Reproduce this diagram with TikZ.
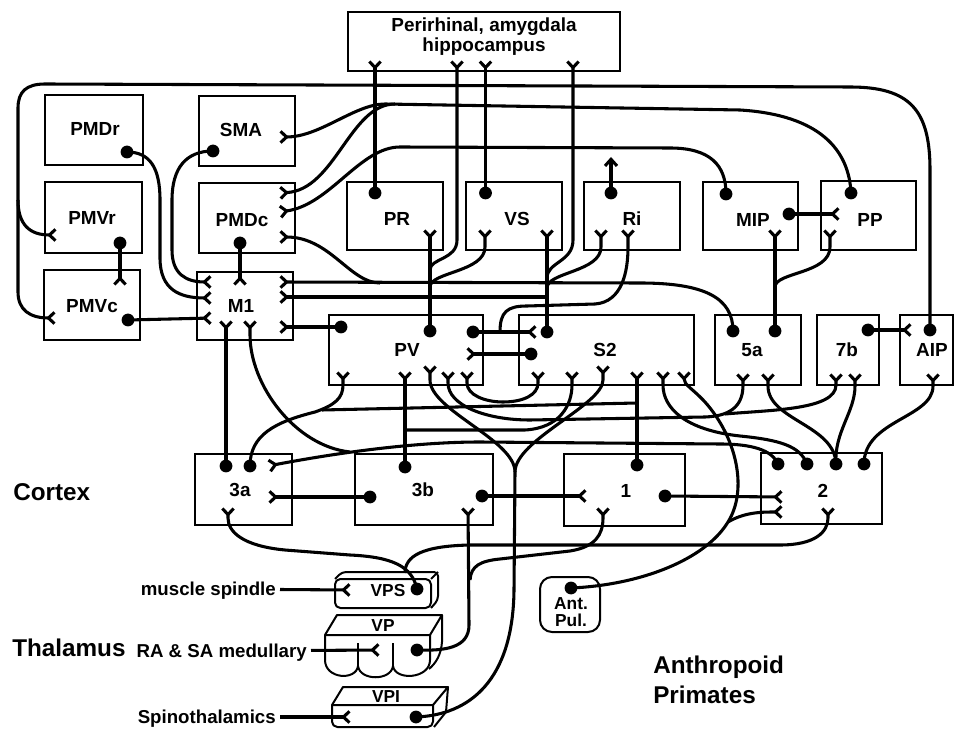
\documentclass[tikz,border=0pt]{standalone}
\usepackage{fontspec}
\setmainfont{Liberation Sans}
\usetikzlibrary{arrows.meta,fit}
\begin{document}
\begin{tikzpicture}[x=0.75pt,y=-0.75pt,
  conn/.style={line width=2.3pt, line join=round},
  fk/.style={-{Straight Barb[reversed,length=4.5pt,width=8.5pt]}},
  upar/.style={-{Straight Barb[length=5pt,width=9pt]}},
  bx/.style={draw, line width=1.5pt, inner sep=0pt},
  shp/.style={draw, line width=1.5pt, line join=round},
  lbl/.style={font=\bfseries\fontsize{14.2}{16}\selectfont, inner sep=0pt, text height=10.2pt, text depth=0pt},
  sml/.style={font=\bfseries\fontsize{13}{15}\selectfont, inner sep=0pt, text height=9.3pt, text depth=0pt},
  side/.style={font=\bfseries\fontsize{14}{16}\selectfont, inner ysep=0pt, inner xsep=3pt, text height=10pt, text depth=0pt},
  big/.style={font=\bfseries\fontsize{18.2}{21}\selectfont, inner sep=0pt, text height=13pt, text depth=0pt}]
\useasboundingbox (0,0) rectangle (956,730);

% ---------------- boxes ----------------
\node[bx, fit={(348,12) (620,71)}] (PH) {};
\node[bx, fit={(45,95) (143,165)}] (PMDr) {};
\node[bx, fit={(199,96) (295,166)}] (SMA) {};
\node[bx, fit={(45,182) (142,253)}] (PMVr) {};
\node[bx, fit={(199,183) (295,253)}] (PMDc) {};
\node[bx, fit={(44,270) (140,340)}] (PMVc) {};
\node[bx, fit={(197,272) (293,340)}] (M1) {};
\node[bx, fit={(347,182) (443,250)}] (PR) {};
\node[bx, fit={(466,182) (562,250)}] (VS) {};
\node[bx, fit={(584,182) (680,250)}] (Ri) {};
\node[bx, fit={(703,182) (798,250)}] (MIP) {};
\node[bx, fit={(821,181) (916,250)}] (PP) {};
\node[bx, fit={(329,315) (483,385)}] (PV) {};
\node[bx, fit={(519,315) (694,385)}] (S2) {};
\node[bx, fit={(715,315) (801,385)}] (A5a) {};
\node[bx, fit={(817,315) (879,385)}] (A7b) {};
\node[bx, fit={(900,315) (953,385)}] (AIP) {};
\node[bx, fit={(195,454) (292,525)}] (A3a) {};
\node[bx, fit={(355,454) (493,525)}] (A3b) {};
\node[bx, fit={(564,454) (685,526)}] (A1) {};
\node[bx, fit={(761,453) (882,524)}] (A2) {};
\node[bx, rounded corners=9pt, fit={(540,577) (600,632)}] (AntPul) {};

% thalamic nuclei (3-D slabs)
\draw[shp, rounded corners=4pt] (335,579) -- (335,608) -- (431,608) -- (431,579) -- cycle;
\draw[shp, rounded corners=3pt] (335,579) -- (342,572) -- (438,572) -- (438,600) -- (431,608);
\draw[shp] (431,579) -- (438,572);
\draw[shp] (325,635) -- (337,615) -- (442,615) -- (430,635) -- cycle;
\draw[shp] (325,635) -- (325,660) .. controls (325,679) and (356,681) .. (358,666)
  .. controls (360,681) and (391,681) .. (393,666) .. controls (395,681) and (430,679) .. (430,660) -- (430,635);
\draw[shp] (358,643) -- (358,666) (393,643) -- (393,666);
\draw[shp] (442,615) -- (442,642) .. controls (441,655) and (436,663) .. (429,669);
\draw[shp] (332,705) -- (343,687) -- (448,687) -- (433,705) -- cycle;
\draw[shp, rounded corners=4pt] (332,705) -- (332,727) -- (433,727) -- (433,705);
\draw[shp] (448,687) -- (446,712) -- (434,727);

% ---------------- terminals ----------------
\foreach \n/\x/\y in {pmdr/127/152, sma/213/151, pmvr/120/243, pmdc/240/243, pmvc/128/320,
  pr/375/193, vs/485.5/193, ri/611/193, mipa/726/194, mipb/789/214, pp/851/193,
  pva/341/327, pvb/430/331, pvc/473/332, sa/547/332, sb/531/354,
  fa/733/331, fb/775/331, sb7/868/330, aip/930/330,
  tA/226/466, tB/250/466, bT/405/467, bL/370/497, bR/482/496,
  oT/637/465, oR/665/496, wA/778/464, wB/807/464, wC/836/464, wD/864/464,
  vps/417/589, vp/417/650, vpi/416/717, antp/571/588}
  \coordinate (\n) at (\x,\y);
\foreach \n/\x/\y in {ph1/375/60, ph2/457/60, ph3/485.5/60, ph4/573/60,
  smaF/279/137, pmdcA/279/193, pmdcB/279/212, pmdcC/279/237,
  pmvrF/57/235, pmvcF/56/318, pmvcT/120/286,
  mL1/212/282, mL2/212/298, mL3/212/318, mT/240/286, mR1/279/282, mR2/279/297, mR3/279/327,
  mB1/226/320, mB2/250/320,
  prF/430/229, vsF1/485/229, vsF2/547/229, riF1/601/229, riF2/628/229, riA/611/157,
  mipF/775/229, ppL/840/214, ppF/830/229,
  pvR/466/354, pvB1/343/371, pvB2/405/371, pvB3/430/365, pvB4/448/371, pvB5/467/371,
  sL/537/332, sB1/538/371, sB2/572/371, sB3/603/365, sB4/637/371, sB5/663/371, sB6/684/371,
  faF1/743/373, faF2/768/373, sbF1/836/373, sbF2/855/373, aipL/912/330, aipF/933/373,
  tR1/268/466, tR2/268/497, tBf/228/507, bBf/468/507, oL/587/496, oB/603/507,
  wL1/783/497, wL2/783/512, wBf/828/507,
  vpsF/351/590, vpF/380/650, vpiF/351/717, vpsTop/405/573}
  \coordinate (\n) at (\x,\y);
% junctions
\foreach \n/\x/\y in {j1/18/200, jA/395/104, jB/380/283, jC/547/297, jD/547/278, jE/547/288,
  jF/430/270, jG/430/287, jH/500/332, jI/775/287, jJ/350/452, jK/322/410, jL/637/403,
  jM/503/402, jN/705/417, jO/725/414, jP/405/430, jQ/515/472, jR/728/522, jS/470/580}
  \coordinate (\n) at (\x,\y);

% ---------------- labels ----------------
\node[lbl] (PHa) at (484,25) {Perirhinal, amygdala};
\node[lbl] (PHb) at (484,45) {hippocampus};
\node[lbl] (PMDrL) at (95,129) {PMDr};
\node[lbl] (SMAL) at (241,130) {SMA};
\node[lbl] (PMVrL) at (92,218) {PMVr};
\node[lbl] (PMDcL) at (242,220) {PMDc};
\node[lbl] (PMVcL) at (92,306) {PMVc};
\node[lbl] (M1L) at (241,306) {M1};
\node[lbl] (PRL) at (397,219) {PR};
\node[lbl] (VSL) at (517,219) {VS};
\node[lbl] (RiL) at (632,219) {Ri};
\node[lbl] (MIPL) at (753,220) {MIP};
\node[lbl] (PPL) at (870,220) {PP};
\node[lbl] (PVL) at (407,350) {PV};
\node[lbl] (S2L) at (605,350) {S2};
\node[lbl] (A5aL) at (752,350) {5a};
\node[lbl] (A7bL) at (847,350) {7b};
\node[lbl] (AIPL) at (932,350) {AIP};
\node[lbl] (A3aL) at (240,490) {3a};
\node[lbl] (A3bL) at (423,490) {3b};
\node[lbl] (A1L) at (626,491) {1};
\node[lbl] (A2L) at (823,491) {2};
\node[sml] (VPSL) at (388,590) {VPS};
\node[sml] (VPL) at (383,625) {VP};
\node[sml] (VPIL) at (386,696) {VPI};
\node[sml] (AntL) at (571,603) {Ant.};
\node[sml] (PulL) at (571,620) {Pul.};
\node[big, anchor=west] (cortex) at (13,492) {Cortex};
\node[big, anchor=west] (thal) at (12,648) {Thalamus};
\node[big, anchor=west] (anth) at (653,665) {Anthropoid};
\node[big, anchor=west] (prim) at (653,695) {Primates};
\node[side, anchor=east] (ms) at (280,589) {muscle spindle};
\node[side, anchor=east] (ra) at (311,651) {RA \& SA medullary};
\node[side, anchor=east] (sp) at (280,717) {Spinothalamics};

% ---------------- connectors ----------------
\begin{scope}[conn]
% big loop AIP -> PMVr, PMVc
\draw[fk] (aip) -- (930,170) .. controls (930,110) and (910,87) .. (850,87) -- (45,84)
  .. controls (26,84) and (18,92) .. (18,108) -- (18,292) .. controls (18,310) and (30,318) .. (pmvcF);
\draw[fk] (j1) .. controls (18,225) and (30,235) .. (pmvrF);
% PP -> SMA, PMDc
\draw[fk] (pp) .. controls (849,150) and (820,115) .. (740,110) -- (385,104) .. controls (355,104) and (320,137) .. (smaF);
\draw[fk] (jA) .. controls (350,104) and (335,190) .. (pmdcA);
% MIP -> PMDc
\draw[fk] (mipa) .. controls (726,165) and (710,148) .. (670,148) -- (400,147) .. controls (360,147) and (330,205) .. (pmdcB);
% 5a -> M1, PMDc
\draw[fk] (fa) .. controls (733,298) and (705,283) .. (640,283) -- (mR1);
\draw[fk] (jB) .. controls (350,283) and (330,237) .. (pmdcC);
% S2 -> VS, M1, perirhinal, Ri
\draw[fk] (sa) -- (vsF2);
\draw[fk] (jC) -- (mR2);
\draw[fk] (jD) .. controls (547,262) and (573,262) .. (573,240) -- (ph4);
\draw[fk] (jE) .. controls (547,272) and (601,272) .. (601,247) -- (riF1);
% PV -> PR, perirhinal, VS
\draw[fk] (pvb) -- (prF);
\draw[fk] (jF) .. controls (430,258) and (457,260) .. (457,240) -- (ph2);
\draw[fk] (jG) .. controls (430,272) and (485,272) .. (485,247) -- (vsF1);
% perirhinal
\draw[fk] (pr) -- (ph1);
\draw[fk] (vs) -- (ph3);
\draw[upar] (ri) -- (riA);
% PV <-> S2, Ri
\draw[fk] (pvc) -- (sL);
\draw[fk] (jH) .. controls (500,312) and (507,306) .. (527,306) -- (595,304) .. controls (622,302) and (628,272) .. (628,247) -- (riF2);
\draw[fk] (sb) -- (pvR);
\draw[fk] (pva) -- (mR3);
% MIP, PP, 5a, 7b, AIP
\draw[fk] (mipb) -- (ppL);
\draw[fk] (fb) -- (mipF);
\draw[fk] (jI) .. controls (775,272) and (830,274) .. (830,247) -- (ppF);
\draw[fk] (sb7) -- (aipL);
% premotor / motor
\draw[fk] (pmdr) .. controls (150,152) and (160,168) .. (160,200) -- (160,258) .. controls (160,290) and (180,298) .. (mL2);
\draw[fk] (sma) .. controls (186,151) and (172,168) .. (172,200) -- (172,250) .. controls (172,274) and (186,282) .. (mL1);
\draw[fk] (pmvc) -- (mL3);
\draw[fk] (pmvr) -- (pmvcT);
\draw[fk] (pmdc) -- (mT);
% cortex row
\draw[fk] (tA) -- (mB1);
\draw[fk] (wA) .. controls (772,450) and (752,444) .. (720,444) -- (480,442) .. controls (400,442) and (310,458) .. (tR1);
\draw[fk] (jJ) .. controls (295,446) and (250,385) .. (250,335) -- (mB2);
\draw[fk] (tB) .. controls (250,435) and (275,422) .. (315,412) .. controls (335,405) and (343,398) .. (343,385) -- (pvB1);
\draw (jK) -- (jL);
\draw[fk] (oT) -- (sB4);
\draw[fk] (jM) .. controls (485,402) and (467,395) .. (467,383) -- (pvB5);
\draw[fk] (jM) .. controls (523,402) and (538,395) .. (538,383) -- (sB1);
\draw[fk] (jN) -- (530,420) .. controls (485,420) and (448,405) .. (448,383) -- (pvB4);
\draw[fk] (jN) .. controls (735,416) and (743,402) .. (743,385) -- (faF1);
\draw[fk] (jO) .. controls (770,410) and (836,410) .. (836,385) -- (sbF1);
\draw[fk] (bT) -- (pvB2);
\draw[fk] (jP) -- (525,430) .. controls (560,428) and (572,405) .. (572,385) -- (sB2);
\draw[fk] (vpi) .. controls (470,715) and (513,680) .. (514,590) -- (jQ) .. controls (515,440) and (430,410) .. (430,380) -- (pvB3);
\draw[fk] (jQ) .. controls (515,440) and (603,405) .. (603,380) -- (sB3);
\draw[fk] (wB) .. controls (800,446) and (780,440) .. (740,436) .. controls (685,430) and (663,408) .. (663,385) -- (sB5);
\draw[fk] (antp) .. controls (640,585) and (705,560) .. (jR) .. controls (748,490) and (737,438) .. (705,402) .. controls (692,388) and (684,385) .. (sB6);
\draw[fk] (jR) .. controls (745,512) and (762,512) .. (wL2);
\draw[fk] (wC) .. controls (835,425) and (768,420) .. (768,386) -- (faF2);
\draw[fk] (wC) .. controls (834,432) and (855,412) .. (855,386) -- (sbF2);
\draw[fk] (wD) .. controls (864,420) and (933,418) .. (933,386) -- (aipF);
\draw[fk] (bL) -- (tR2);
\draw[fk] (bR) -- (oL);
\draw[fk] (oR) -- (wL1);
% thalamus
\draw[fk] (vps) .. controls (412,566) and (392,557) .. (350,555) -- (285,550) .. controls (243,546) and (228,532) .. (228,518) -- (tBf);
\draw[fk] (vpsTop) .. controls (405,556) and (422,546) .. (470,545) -- (780,545) .. controls (815,545) and (828,532) .. (828,518) -- (wBf);
\draw[fk] (jS) .. controls (471,566) and (480,561) .. (500,559) -- (570,551) .. controls (595,547) and (603,535) .. (603,518) -- (oB);
\draw[fk] (vp) .. controls (445,651) and (469,648) .. (469,625) -- (bBf);
\draw[fk] (ms) -- (vpsF);
\draw[fk] (ra) -- (vpF);
\draw[fk] (sp) -- (vpiF);
\end{scope}

% ---------------- dots ----------------
\foreach \n in {pmdr,sma,pmvr,pmdc,pmvc,pr,vs,ri,mipa,mipb,pp,pva,pvb,pvc,sa,sb,fa,fb,sb7,aip,
  tA,tB,bT,bL,bR,oT,oR,wA,wB,wC,wD,vps,vp,vpi,antp}
  \fill (\n) circle[radius=4.8pt];
\end{tikzpicture}
\end{document}
